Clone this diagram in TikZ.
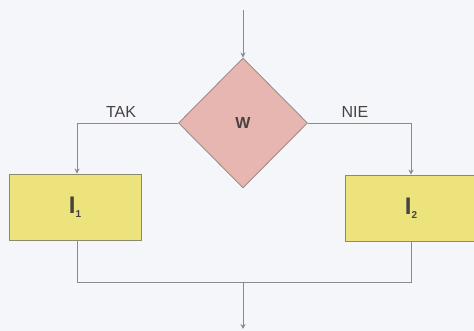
\documentclass[tikz,border=0pt]{standalone}
\usepackage{fontspec}
\setmainfont{Liberation Sans}
\usetikzlibrary{shapes.geometric,arrows.meta}
\definecolor{bgc}{HTML}{F5F6FA}
\definecolor{linec}{HTML}{8A8A8E}
\definecolor{pinkf}{HTML}{E8B6B0}
\definecolor{pinkd}{HTML}{A08C8C}
\definecolor{yelf}{HTML}{ECE37C}
\definecolor{yeld}{HTML}{8C8A6C}
\definecolor{txt}{HTML}{484242}
\tikzset{
  conn/.style={draw=linec, line width=0.9pt},
  arr/.style={conn, -{Stealth[length=5pt,width=5pt]}, shorten >=0pt},
  cond/.style={diamond, draw=pinkd, fill=pinkf, line width=0.9pt, minimum width=129pt, minimum height=130pt, inner sep=0pt, aspect=1, text=txt, font=\fontsize{16}{16}\selectfont\bfseries},
  instr/.style={rectangle, draw=yeld, fill=yelf, line width=0.9pt, minimum width=132pt, minimum height=66pt, inner sep=0pt, text=txt, font=\fontsize{24}{24}\selectfont\bfseries},
  lbl/.style={text=txt, font=\fontsize{16}{16}\selectfont, inner sep=0pt}
}
\begin{document}
\begin{tikzpicture}[x=1pt,y=1pt]
\fill[bgc] (0,0) rectangle (474,331);
\useasboundingbox (0,0) rectangle (474,331);
\begin{scope}
\clip (0,0) rectangle (474,331);
\node[cond] (w) at (243,208) {W};
\node[instr] (i1) at (75,124) {I\raisebox{-0.35ex}{\fontsize{10}{10}\selectfont 1}};
\node[instr] (i2) at (411,123) {I\raisebox{-0.35ex}{\fontsize{10}{10}\selectfont 2}};
\coordinate (top) at (243,321);
\coordinate (jl) at (77,208);
\coordinate (jr) at (411,208);
\coordinate (bl) at (77,49);
\coordinate (br) at (411,49);
\coordinate (bm) at (243,49);
\coordinate (end) at (243,2);
\draw[arr] (top) -- (w.north);
\draw[arr] (w.west) -- (jl) -- (i1.north -| jl);
\draw[arr] (w.east) -- (jr) -- (i2.north);
\draw[conn] (i1.south -| bl) -- (bl) -- (br) -- (i2.south);
\draw[arr] (bm) -- (end);
\node[lbl, anchor=base] (tak) at (121,213) {TAK};
\node[lbl, anchor=base] (nie) at (355,213) {NIE};
\end{scope}
\end{tikzpicture}
\end{document}
